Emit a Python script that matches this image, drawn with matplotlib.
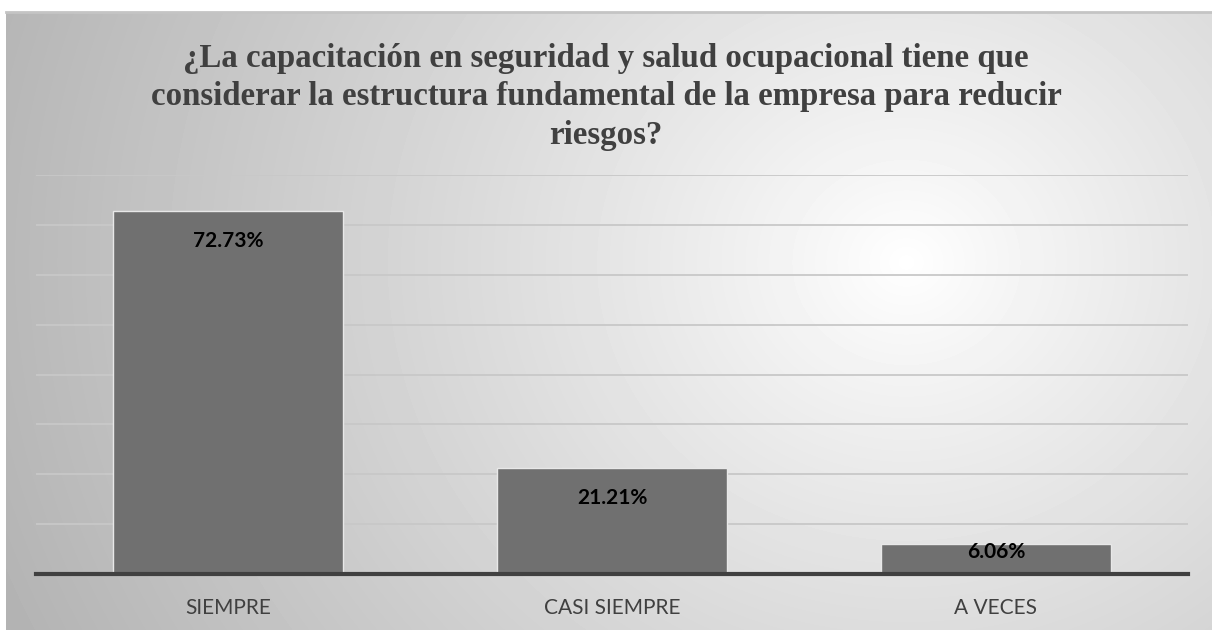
import numpy as np
import matplotlib
matplotlib.use("Agg")
import matplotlib.pyplot as plt

categories = ["SIEMPRE", "CASI SIEMPRE", "A VECES"]
values = [72.73, 21.21, 6.06]
labels = ["72.73%", "21.21%", "6.06%"]
title = ("¿La capacitación en seguridad y salud ocupacional tiene que\n"
         "considerar la estructura fundamental de la empresa para reducir\n"
         "riesgos?")

W, H = 1212, 630
fig = plt.figure(figsize=(W / 100, H / 100), dpi=100)
fig.patch.set_facecolor("white")

# radial gradient background
bg = fig.add_axes([6 / W, 0, 1 - 6 / W, (H - 12) / H])
yy, xx = np.mgrid[0:618, 0:1206]
cx, cy = 900, 250
d = np.sqrt(((xx - cx) / 1.0) ** 2 + ((yy - cy) / 0.9) ** 2)
d = d / d.max()
shade = 1.0 - 0.30 * np.clip(d, 0, 1) ** 0.9
bg.imshow(shade, cmap="gray", vmin=0, vmax=1, aspect="auto", extent=[0, 1, 0, 1], origin="upper")
bg.set_xlim(0, 1)
bg.set_ylim(0, 1)
bg.axis("off")
bg.plot([0, 1], [1, 1], color="#c4c4c4", lw=2, transform=bg.transAxes, clip_on=False)

ax = fig.add_axes([36 / W, 1 - 574 / H, (1188 - 36) / W, (574 - 175) / H])
ax.patch.set_alpha(0)
x = np.arange(len(categories))
ax.bar(x, values, width=0.6, color="#707070", edgecolor="#e8e8e8", linewidth=1, zorder=3)
ax.set_xlim(-0.5, 2.5)
ax.set_ylim(0, 80)
ax.set_yticks(np.arange(10, 81, 10))
ax.yaxis.grid(True, color="#c8c8c8", lw=1.3, zorder=0)
ax.tick_params(axis="y", left=False, labelleft=False)
ax.tick_params(axis="x", length=0, pad=17, labelsize=15, labelcolor="#404040")
ax.set_xticks(x)
ax.set_xticklabels(categories, family="Lato")
for s in ["top", "right", "left"]:
    ax.spines[s].set_visible(False)
ax.spines["bottom"].set_color("#404040")
ax.spines["bottom"].set_linewidth(3)
ax.spines["bottom"].set_zorder(4)

for xi, v, lab in zip(x, values, labels):
    y = v - 4.0 if v > 10 else v + 0.4
    ax.text(xi, y, lab, ha="center", va="top", fontsize=15, fontweight="bold",
            family="Lato", color="black", zorder=5)

fig.text(0.5, 1 - 97 / H, title, ha="center", va="center", fontsize=23.7,
         fontweight="bold", family="Liberation Serif", color="#404040", linespacing=1.32)

fig.savefig("out.png", dpi=100)
